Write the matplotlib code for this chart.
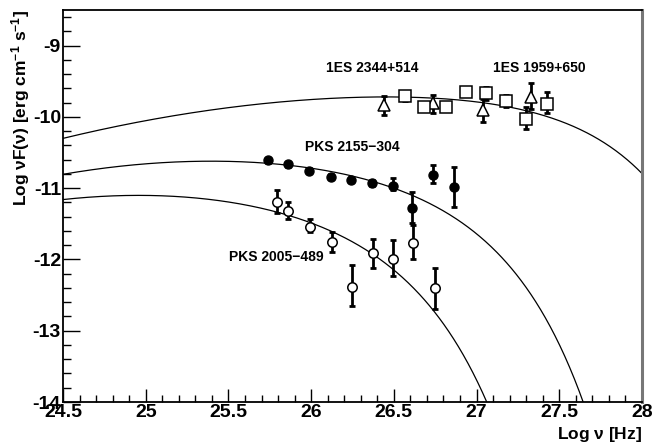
import numpy as np
import matplotlib
matplotlib.use("Agg")
import matplotlib.pyplot as plt

plt.rcParams['font.family'] = ['Liberation Sans', 'DejaVu Sans']
plt.rcParams['font.weight'] = 'bold'
plt.rcParams['axes.unicode_minus'] = False
plt.rcParams['mathtext.fontset'] = 'custom'
plt.rcParams['mathtext.rm'] = 'Liberation Sans:bold'
plt.rcParams['mathtext.it'] = 'Liberation Sans:bold'
plt.rcParams['mathtext.bf'] = 'Liberation Sans:bold'

# 1ES 2344+514 (triangles)
tri_x = [26.44, 26.735, 27.041, 27.329]
tri_y = [-9.83, -9.81, -9.90, -9.715]
tri_lo = [-9.98, -9.94, -10.07, -9.89]
tri_hi = [-9.71, -9.69, -9.75, -9.52]

# 1ES 1959+650 (squares)
sq_x = [26.568, 26.683, 26.816, 26.937, 27.057, 27.177, 27.299, 27.428]
sq_y = [-9.70, -9.855, -9.855, -9.654, -9.668, -9.776, -10.03, -9.818]
sq_lo = [-9.77, -9.915, -9.915, -9.69, -9.76, -9.855, -10.17, -9.95]
sq_hi = [-9.63, -9.795, -9.795, -9.62, -9.58, -9.69, -9.855, -9.645]

# PKS 2155-304 (filled circles)
p2155_x = [25.741, 25.862, 25.989, 26.120, 26.239, 26.366, 26.493, 26.612, 26.739, 26.866]
p2155_y = [-10.603, -10.664, -10.757, -10.837, -10.884, -10.93, -10.964, -11.28, -10.81, -10.99]
p2155_lo = [-10.64, -10.70, -10.79, -10.87, -10.92, -10.97, -11.03, -11.49, -10.93, -11.27]
p2155_hi = [-10.57, -10.63, -10.72, -10.80, -10.85, -10.89, -10.86, -11.06, -10.67, -10.70]

# PKS 2005-489 (open circles)
p2005_x = [25.792, 25.862, 25.993, 26.128, 26.249, 26.372, 26.493, 26.618, 26.749]
p2005_y = [-11.20, -11.32, -11.54, -11.76, -12.39, -11.91, -11.99, -11.77, -12.40]
p2005_lo = [-11.35, -11.43, -11.62, -11.89, -12.66, -12.12, -12.23, -12.00, -12.70]
p2005_hi = [-11.03, -11.19, -11.43, -11.62, -12.08, -11.71, -11.73, -11.51, -12.12]

# model curves, points
top_kx = [24.49, 25.33, 25.70, 26.30, 26.42, 26.72, 27.04, 27.22, 27.505, 27.747, 28.0]
top_ky = [-10.28, -9.97, -9.846, -9.71, -9.705, -9.705, -9.77, -9.855, -10.09, -10.39, -10.757]
mid_kx = [24.49, 25.29, 25.74, 25.99, 26.24, 26.49, 26.62, 26.82, 27.04, 27.24, 27.42, 27.545, 27.644]
mid_ky = [-10.81, -10.63, -10.62, -10.73, -10.86, -10.98, -11.09, -11.35, -11.725, -12.2, -12.85, -13.41, -14.0]
bot_kx = [24.49, 25.28, 25.70, 25.79, 26.134, 26.376, 26.537, 26.739, 26.90, 27.057]
bot_ky = [-11.165, -11.13, -11.27, -11.33, -11.63, -11.94, -12.24, -12.71, -13.22, -14.0]

labels = ["1ES 2344+514", "1ES 1959+650", "PKS 2155\u2212304", "PKS 2005\u2212489"]
label_pos = [(26.37, -9.31), (27.38, -9.31), (26.25, -10.42), (25.79, -11.96)]


def smooth(kx, ky, xs):
    kx = np.asarray(kx)
    t = kx - 27.0
    A = np.column_stack([np.ones_like(t), t, t**2, 10**t])
    coef = np.linalg.lstsq(A, np.asarray(ky), rcond=None)[0]
    u = xs - 27.0
    return coef[0] + coef[1]*u + coef[2]*u**2 + coef[3]*10**u


def errs(y, lo, hi):
    y = np.asarray(y)
    return [y - np.asarray(lo), np.asarray(hi) - y]


fig = plt.figure(figsize=(6.52, 4.43), dpi=100)
ax = fig.add_axes([63/652, 41/443, 579/652, 392/443])

xs = np.linspace(24.5, 28.0, 600)
for kx, ky in [(top_kx, top_ky), (mid_kx, mid_ky), (bot_kx, bot_ky)]:
    ax.plot(xs, smooth(kx, ky, xs), color='black', lw=0.9)

eb = dict(fmt='none', ecolor='black', elinewidth=2, capsize=2.2, capthick=2)
ax.errorbar(tri_x, tri_y, yerr=errs(tri_y, tri_lo, tri_hi), **eb)
ax.errorbar(sq_x, sq_y, yerr=errs(sq_y, sq_lo, sq_hi), **eb)
ax.errorbar(p2155_x, p2155_y, yerr=errs(p2155_y, p2155_lo, p2155_hi), **eb)
ax.errorbar(p2005_x, p2005_y, yerr=errs(p2005_y, p2005_lo, p2005_hi), **eb)

ax.plot(tri_x, tri_y, '^', ms=8, mfc='white', mec='black', mew=1.1, ls='none')
ax.plot(sq_x, sq_y, 's', ms=8.6, mfc='white', mec='black', mew=1.1, ls='none')
ax.plot(p2155_x, p2155_y, 'o', ms=6.5, mfc='black', mec='black', ls='none')
ax.plot(p2005_x, p2005_y, 'o', ms=6.8, mfc='white', mec='black', mew=1.1, ls='none')

for txt, (lx, ly) in zip(labels, label_pos):
    ax.text(lx, ly, txt, fontsize=10, fontweight='bold', ha='center', va='center')

ax.set_xlim(24.5, 28.0)
ax.set_ylim(-14, -8.5)
ax.set_xticks(np.arange(24.5, 28.01, 0.5))
ax.set_xticklabels(["24.5", "25", "25.5", "26", "26.5", "27", "27.5", "28"])
ax.set_xticks(np.arange(24.5, 28.01, 0.1), minor=True)
ax.set_yticks([-14, -13, -12, -11, -10, -9])
ax.set_yticks(np.arange(-14, -8.49, 0.2), minor=True)

ax.tick_params(axis='both', which='both', direction='in', top=False, right=False,
               labelsize=14, pad=1.5, width=1)
ax.tick_params(axis='x', which='major', length=9.5)
ax.tick_params(axis='x', which='minor', length=4.8)
ax.tick_params(axis='y', which='major', length=12)
ax.tick_params(axis='y', which='minor', length=6)
for lab in ax.get_xticklabels() + ax.get_yticklabels():
    lab.set_fontweight('bold')

for s in ax.spines.values():
    s.set_linewidth(1.3)
ax.spines['right'].set_color('#777777')
ax.spines['right'].set_linewidth(2.2)

ax.text(1.0, -0.084, r"Log $\nu$ [Hz]", transform=ax.transAxes, ha='right', va='center',
        fontsize=12.5, fontweight='bold')
ax.text(-0.074, 1.0, r"Log $\nu$F($\nu$) [erg cm$^{-1}$ s$^{-1}$]", transform=ax.transAxes,
        rotation=90, ha='center', va='top', fontsize=12.5, fontweight='bold')

fig.savefig("out.png", dpi=100)
